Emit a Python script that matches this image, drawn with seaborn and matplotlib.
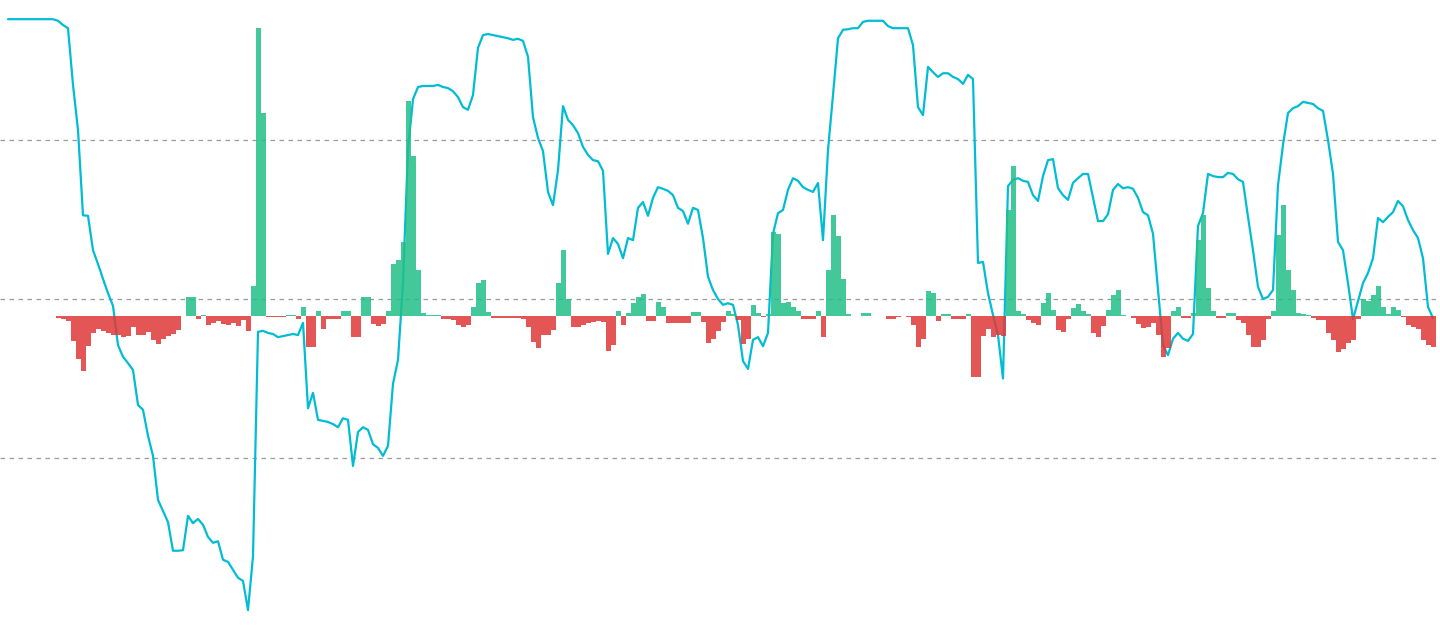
import numpy as np
import pandas as pd
import matplotlib
matplotlib.use("Agg")
import matplotlib.pyplot as plt
import seaborn as sns

# Oscillator line (levels 80 / 50 / 20 are the dashed guides)
osc = [
    102.8, 102.8, 102.8, 102.8, 102.8, 102.8, 102.8, 102.8, 102.8, 102.8,
    102.5, 101.7, 101.1, 90.4, 81.9, 65.8, 65.7, 59.2, 56.6, 53.8,
    51.1, 48.7, 41.3, 39.1, 37.9, 36.6, 30.0, 29.1, 24.2, 20.4,
    12.1, 10.0, 7.9, 2.5, 2.5, 2.6, 9.1, 7.7, 8.5, 7.4,
    5.1, 4.0, 4.3, 0.8, 0.4, -1.1, -2.6, -3.2, -8.7, 1.5,
    43.8, 44.0, 43.6, 43.4, 42.8, 43.0, 43.2, 43.4, 43.2, 45.5,
    29.4, 32.3, 27.2, 27.0, 26.8, 26.4, 25.8, 27.5, 27.2, 18.5,
    24.9, 25.8, 25.3, 22.6, 21.9, 20.4, 22.3, 34.0, 38.5, 53.0,
    78.3, 87.7, 90.0, 90.2, 90.2, 90.2, 90.4, 90.0, 89.8, 89.2,
    88.1, 86.2, 85.7, 88.5, 97.4, 99.8, 100.0, 99.8, 99.6, 99.4,
    99.2, 98.9, 99.1, 98.7, 95.7, 84.3, 80.4, 77.9, 70.2, 67.7,
    74.3, 86.4, 83.8, 82.8, 81.3, 78.7, 77.2, 76.2, 76.0, 74.2,
    58.5, 61.5, 60.4, 57.7, 61.5, 61.1, 67.2, 68.3, 65.7, 69.1,
    71.1, 70.8, 70.4, 69.6, 67.2, 66.6, 64.2, 67.2, 66.8, 61.5,
    54.2, 51.7, 50.0, 48.9, 49.2, 48.9, 45.1, 38.3, 36.8, 42.3,
    42.8, 41.1, 43.6, 62.3, 66.2, 66.8, 70.6, 72.8, 72.3, 71.1,
    70.6, 70.2, 71.9, 61.1, 78.1, 88.5, 99.2, 100.8, 100.9, 101.1,
    101.1, 102.3, 102.5, 102.5, 102.5, 102.5, 101.5, 101.1, 101.1, 101.1,
    101.1, 97.9, 86.2, 84.7, 93.8, 92.8, 91.9, 92.6, 92.6, 91.9,
    91.5, 90.6, 92.3, 91.5, 56.8, 57.0, 51.1, 47.0, 43.2, 35.0,
    71.3, 72.5, 72.8, 72.3, 72.1, 69.6, 68.5, 73.2, 76.2, 76.4,
    70.9, 69.6, 68.7, 71.9, 72.8, 73.6, 73.6, 69.1, 64.7, 64.7,
    66.0, 70.6, 71.7, 70.9, 71.1, 70.8, 69.1, 66.4, 65.8, 62.3,
    51.7, 41.3, 39.4, 42.5, 43.6, 42.5, 42.1, 43.4, 63.8, 66.2,
    73.6, 73.2, 73.0, 73.0, 73.8, 73.6, 72.6, 72.1, 65.5, 59.2,
    52.3, 50.0, 50.4, 51.7, 71.5, 79.1, 85.1, 86.0, 86.4, 87.2,
    87.0, 86.8, 86.0, 85.5, 80.0, 73.6, 60.8, 59.2, 53.0, 46.2,
    49.6, 53.0, 54.9, 57.7, 65.3, 64.5, 65.5, 66.4, 68.5, 67.5,
    64.9, 63.0, 61.5, 57.7, 48.5, 46.4,
]

# Histogram (positive = green, negative = red)
hist = [
    0.0, 0.0, 0.0, 0.0, 0.0, 0.0, 0.0, 0.0, 0.0, 0.0,
    -0.2, -0.3, -0.5, -2.5, -4.3, -5.5, -3.0, -1.7, -1.3, -1.5,
    -1.7, -1.9, -1.9, -2.1, -2.0, -1.1, -1.9, -1.9, -1.6, -2.4,
    -2.8, -2.3, -2.0, -1.8, -1.4, 0.0, 1.9, 1.9, -0.3, 0.1,
    -0.9, -0.7, -0.5, -0.8, -0.9, -0.7, -1.0, -0.4, -1.5, 3.0,
    28.8, 20.3, -0.1, -0.1, -0.1, -0.1, 0.1, 0.1, -0.3, 0.9,
    -3.1, -3.1, 0.5, -1.3, -0.3, -0.3, -0.3, 0.5, 0.5, -2.1,
    -2.1, 1.9, 1.9, -0.8, -1.0, -0.8, 0.5, 5.2, 5.6, 7.4,
    21.5, 16.0, 4.6, 0.3, 0.1, 0.1, 0.1, -0.3, -0.3, -0.4,
    -0.9, -1.1, -0.9, 0.9, 3.3, 3.6, 0.4, -0.2, -0.2, -0.2,
    -0.2, -0.2, -0.2, -0.3, -1.1, -2.6, -3.2, -1.9, -1.9, -1.4,
    3.3, 6.6, 1.7, -1.1, -1.1, -0.9, -0.7, -0.6, -0.5, -0.6,
    -3.5, -2.9, 0.5, -0.9, 0.3, 1.3, 1.9, 2.2, -0.5, -0.5,
    1.4, 0.9, -0.7, -0.7, -0.7, -0.7, -0.7, 0.4, 0.4, -0.6,
    -2.7, -2.3, -1.5, -0.6, 0.5, 0.2, -0.4, -2.8, -2.3, 1.1,
    0.3, -0.1, 0.2, 8.4, 8.2, 1.3, 1.4, 0.9, 0.5, -0.3,
    -0.3, -0.3, 0.5, -2.1, 4.6, 10.1, 8.0, 3.7, 0.2, 0.0,
    0.0, 0.3, 0.3, 0.0, 0.0, 0.0, -0.3, -0.3, -0.1, 0.0,
    -0.1, -0.9, -3.1, -2.3, 2.5, 2.3, -0.5, 0.2, 0.2, -0.3,
    -0.3, -0.3, 0.2, -6.1, -6.1, -2.0, -1.3, -2.1, -1.9, -2.0,
    10.6, 15.0, 0.5, 0.2, -0.4, -0.7, -0.9, 1.3, 2.3, 0.6,
    -1.4, -1.6, -0.3, 0.8, 1.2, 0.5, 0.2, -1.7, -2.1, -1.0,
    0.6, 2.1, 2.6, 0.1, 0.0, -0.2, -0.8, -1.2, -1.1, -0.7,
    -1.9, -4.1, -3.2, 0.5, 0.9, -0.2, -0.2, 0.3, 7.6, 10.1,
    2.8, 0.5, -0.2, -0.2, 0.3, 0.3, -0.4, -0.7, -1.9, -3.1,
    -3.1, -2.4, -0.3, 0.5, 8.1, 11.1, 4.6, 2.6, 0.3, 0.2,
    0.1, -0.2, -0.4, -0.4, -1.7, -2.4, -3.6, -3.3, -2.7, -2.4,
    -0.3, 1.7, 1.5, 2.1, 3.0, 0.9, 0.2, 0.9, 0.6, -0.1,
    -0.9, -1.1, -1.3, -2.4, -2.9, -3.1,
]

levels = [80, 50, 20]

LINE_COLOR = "#00BCD4"
UP_COLOR = "#22BF88"
DOWN_COLOR = "#E03838"
LEVEL_COLOR = "#9A9A9A"

n = len(osc)
assert len(hist) == n
idx = np.arange(n)
line_df = pd.DataFrame({"t": idx, "osc": osc})
hist_df = pd.DataFrame({"t": idx, "h": hist})
hist_df["dir"] = np.where(hist_df["h"] >= 0, "up", "down")

sns.set_theme(style="white")
fig = plt.figure(figsize=(14.4, 6.33), dpi=100)
ax = fig.add_axes([0, 0, 1, 1])
ax.set_facecolor("white")

for lv in levels:
    ax.axhline(lv, color=LEVEL_COLOR, lw=0.9, ls=(0, (3.6, 3.6)), zorder=1)

sns.lineplot(data=line_df, x="t", y="osc", ax=ax, color=LINE_COLOR,
             lw=1.6, sort=False, zorder=2)
ax.set_ylim(-13.02, 106.42)

ax2 = ax.twinx()
sns.barplot(data=hist_df, x="t", y="h", hue="dir", ax=ax2,
            palette={"up": UP_COLOR, "down": DOWN_COLOR},
            native_scale=True, dodge=False, width=1.0, saturation=1,
            errorbar=None, legend=False, linewidth=0, alpha=0.85)
ax2.set_ylim(-31.7, 31.6)

for a in (ax, ax2):
    a.set_xlim(-1.6, 286.4)
    a.set_xticks([])
    a.set_yticks([])
    a.set_xlabel("")
    a.set_ylabel("")
    for s in a.spines.values():
        s.set_visible(False)

fig.savefig("out.png", dpi=100, facecolor="white")
